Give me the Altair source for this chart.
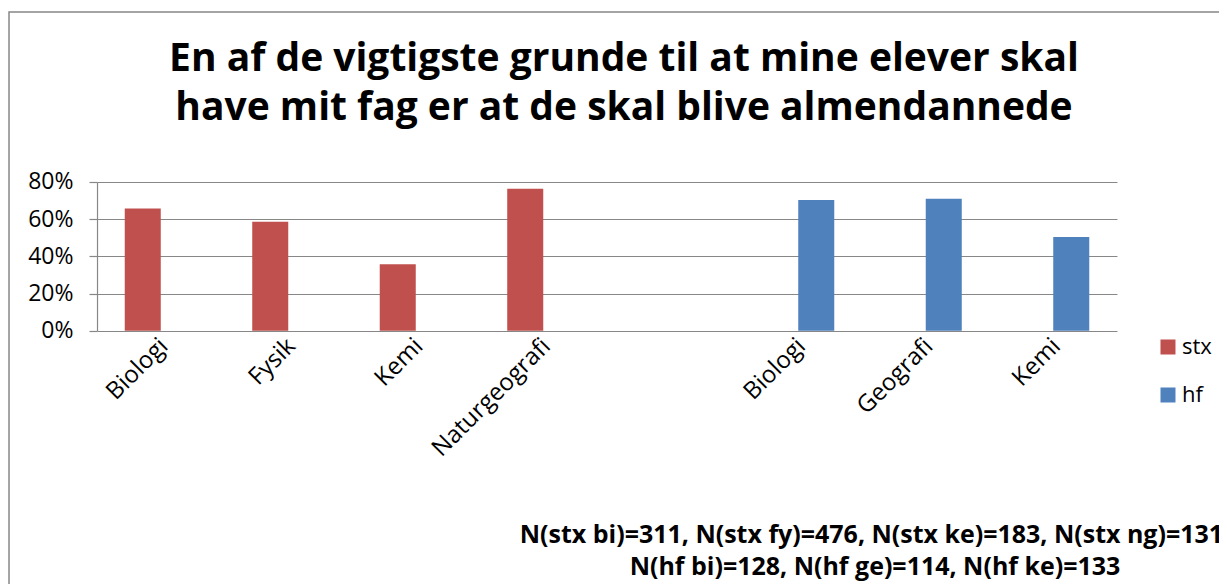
import altair as alt
import pandas as pd

# ---- data ----
keys = ["stx_Biologi", "stx_Fysik", "stx_Kemi", "stx_Naturgeografi", "gap",
        "hf_Biologi", "hf_Geografi", "hf_Kemi"]
names = ["Biologi", "Fysik", "Kemi", "Naturgeografi", "",
         "Biologi", "Geografi", "Kemi"]
series_of_key = ["stx", "stx", "stx", "stx", None, "hf", "hf", "hf"]
values = [0.658, 0.586, 0.357, 0.764, None, 0.703, 0.710, 0.504]
series_names = ["stx", "hf"]
series_colors = ["#C0504D", "#4F81BD"]
title_lines = ["En af de vigtigste grunde til at mine elever skal",
               "have mit fag er at de skal blive almendannede"]
note_lines = ["N(stx bi)=311, N(stx fy)=476, N(stx ke)=183, N(stx ng)=131,",
              "N(hf bi)=128, N(hf ge)=114, N(hf ke)=133"]
y_ticks = [0, 0.2, 0.4, 0.6, 0.8]

rows = [dict(key=k, series=s, value=v)
        for k, s, v in zip(keys, series_of_key, values) if v is not None]
df = pd.DataFrame(rows)

label_map = "{" + ", ".join(f"'{k}': '{n}'" for k, n in zip(keys, names)) + "}"

FONT = "Open Sans"
GRID = "#878787"

W, H = 1020, 148.7

bars = alt.Chart(df).mark_bar(stroke=None).encode(
    x=alt.X("key:N", sort=keys,
            scale=alt.Scale(domain=keys, paddingInner=0.435, paddingOuter=0.2175),
            axis=alt.Axis(title=None, labelAngle=-45, labelExpr=f"{label_map}[datum.value]",
                          domain=False, ticks=False, grid=False, labelPadding=3,
                          labelOffset=-5, labelFontSize=24, labelFont=FONT,
                          labelColor="#000000")),
    xOffset=alt.XOffset("series:N", scale=alt.Scale(domain=series_names, paddingInner=0, paddingOuter=0)),
    y=alt.Y("value:Q", scale=alt.Scale(domain=[0, 0.8], nice=False),
            axis=alt.Axis(title=None, values=y_ticks, format=".0%", grid=True,
                          gridColor=GRID, gridWidth=1.2, domainColor=GRID, domainWidth=1.2,
                          tickColor=GRID, tickWidth=1.2, tickSize=8, labelPadding=16,
                          labelFontSize=23, labelFont=FONT, labelColor="#000000")),
    color=alt.Color("series:N", scale=alt.Scale(domain=series_names, range=series_colors),
                    legend=alt.Legend(title=None, orient="none", legendX=1060, legendY=154,
                                      symbolType="square", symbolSize=225, symbolStrokeWidth=0,
                                      labelFontSize=22, labelFont=FONT, labelColor="#000000",
                                      rowPadding=26, labelOffset=3)),
)

title = alt.Chart().mark_text(
    text=title_lines, font=FONT, fontWeight="bold", fontSize=39, align="center",
    baseline="alphabetic", lineHeight=49, color="#000000"
).encode(x=alt.value(527), y=alt.value(-111))

note = alt.Chart().mark_text(
    text=note_lines, font=FONT, fontWeight="bold", fontSize=25, align="center",
    baseline="alphabetic", lineHeight=32, color="#000000"
).encode(x=alt.value(778), y=alt.value(361))

frame = alt.Chart().mark_rect(fill=None, stroke=GRID, strokeWidth=1.5).encode(
    x=alt.value(-88), x2=alt.value(1140), y=alt.value(-170), y2=alt.value(410)
)

chart = alt.layer(frame, bars, title, note).properties(
    width=W, height=H,
    autosize=alt.AutoSizeParams(type="none"),
    padding={"left": 89, "top": 174, "right": 102, "bottom": 253},
).configure_view(stroke=None)

chart.save("out.html", embed_options={"renderer": "svg", "actions": False})
